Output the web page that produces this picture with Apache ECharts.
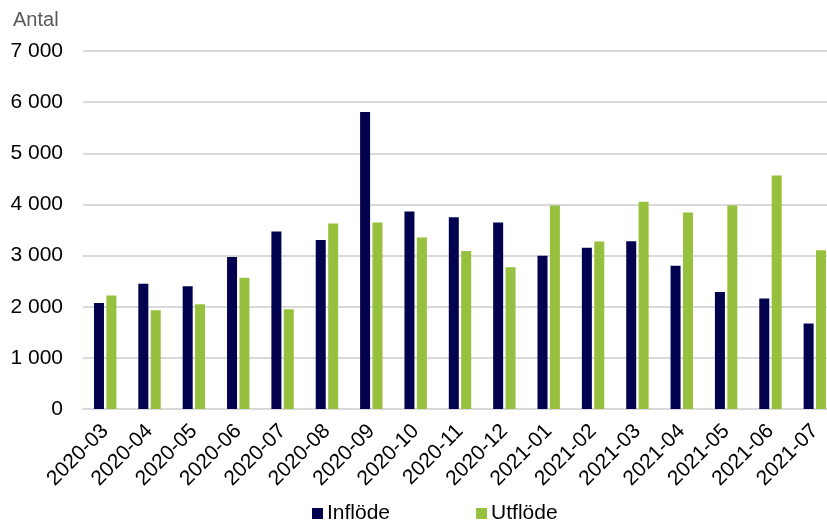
<!DOCTYPE html>
<html>
<head>
<meta charset="utf-8">
<script src="https://cdn.jsdelivr.net/npm/echarts@6/dist/echarts.min.js"></script>
<style>
html,body{margin:0;padding:0;background:#fff;}
#c{width:827px;height:524px;}
</style>
</head>
<body>
<div id="c"></div>
<script>
const categories = ['2020-03','2020-04','2020-05','2020-06','2020-07','2020-08','2020-09','2020-10','2020-11','2020-12','2021-01','2021-02','2021-03','2021-04','2021-05','2021-06','2021-07'];
const inflode = [2075,2450,2400,2970,3470,3305,5805,3860,3750,3645,2995,3155,3280,2800,2290,2160,1670];
const utflode = [2220,1930,2050,2565,1950,3625,3645,3355,3090,2770,3980,3275,4050,3840,3980,4565,3105];
const yTicks = [0,1000,2000,3000,4000,5000,6000,7000];

const FONT = 'Liberation Sans, Arial, sans-serif';
const chart = echarts.init(document.getElementById('c'), null, {renderer:'canvas'});
chart.setOption({
  animation:false,
  backgroundColor:'#fff',
  title:{text:'Antal', left:8, top:5, textStyle:{fontFamily:FONT, fontSize:20, fontWeight:'normal', color:'#595959'}},
  legend:{
    data:['Inflöde','Utflöde'], left:307, top:498, itemWidth:11, itemHeight:11, itemGap:86,
    icon:'rect',
    textStyle:{fontFamily:FONT, fontSize:21, color:'#000', padding:[0,0,0,-1]}
  },
  grid:{left:83, width:754, top:51, bottom:115, containLabel:false, outerBoundsMode:'none'},
  xAxis:{
    type:'category', data:categories,
    axisLine:{lineStyle:{color:'#d9d9d9', width:2}},
    axisTick:{show:false},
    axisLabel:{rotate:45, fontFamily:FONT, fontSize:21, color:'#000', margin:19, interval:0}
  },
  yAxis:{
    type:'value', min:0, max:7000, interval:1000,
    axisLine:{show:false}, axisTick:{show:false},
    splitLine:{lineStyle:{color:'#d9d9d9', width:2}},
    axisLabel:{fontFamily:FONT, fontSize:21, color:'#000', margin:20,
      formatter:v=>String(v).replace(/\B(?=(\d{3})+(?!\d))/g,' ')}
  },
  series:[
    {name:'Inflöde', type:'bar', data:inflode, barWidth:10, barGap:'24%', itemStyle:{color:'#02024F'}},
    {name:'Utflöde', type:'bar', data:utflode, barWidth:10, barGap:'24%', itemStyle:{color:'#96C03E'}}
  ]
});
</script>
</body>
</html>
